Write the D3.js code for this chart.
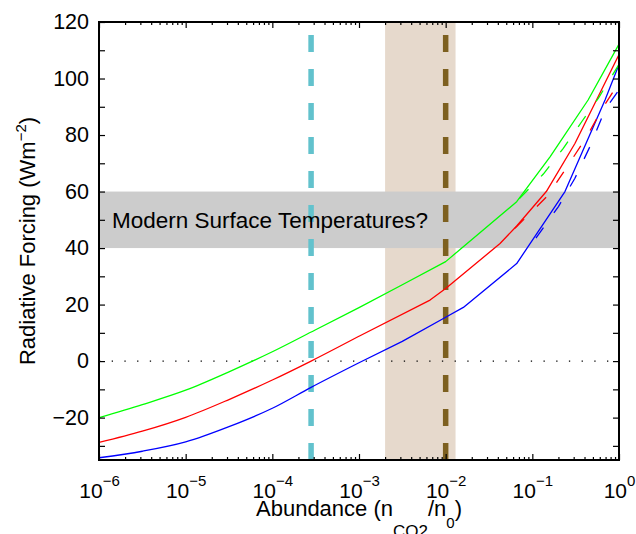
<!DOCTYPE html>
<html>
<head>
<meta charset="utf-8">
<script src="https://cdn.jsdelivr.net/npm/d3@7"></script>
<style>
  body { margin: 0; background: #fff; }
  text { font-family: "Liberation Sans", Arial, Helvetica, sans-serif; fill: #000; }
</style>
</head>
<body>
<svg id="chart" width="636" height="534"></svg>
<script>
// Solid curves: [abundance, forcing]
const greenSolid = [[1e-6, -20], [3.16e-6, -15.4], [1e-5, -10.3], [3.16e-5, -3.8], [1e-4, 3.3],
  [3.16e-4, 11.1], [1e-3, 18.9], [3.16e-3, 27], [1e-2, 35.2], [0.066, 56.4], [0.16, 72.3],
  [0.44, 92.4], [1, 112.2]];
const redSolid = [[1e-6, -28.8], [3.16e-6, -24.8], [1e-5, -19.9], [3.16e-5, -13.6], [1e-4, -6.7],
  [2.8e-4, 0], [1e-3, 8.8], [6.6e-3, 21.6], [1e-2, 25.7], [0.0424, 41.6],
  [0.066, 47.8], [0.145, 60], [0.31, 77], [0.55, 92.4], [1, 108.5]];
const blueSolid = [[1e-6, -34.2], [3.16e-6, -31.9], [1e-5, -28.6], [3.16e-5, -23.2], [1e-4, -16.7],
  [2.8e-4, -9.3], [1e-3, -0.6], [3.16e-3, 7], [1e-2, 15.5], [0.016, 19], [0.066, 34.5],
  [0.238, 60], [0.69, 92.4], [1, 105]];

// Dashed curves
const greenDashed = [[0.071, 57.5], [0.134, 66.2], [0.2275, 75.3], [0.371, 84.7], [0.577, 93], [1, 105]];
const redDashed = [[0.063, 47], [0.15, 58.5], [0.26, 69.4], [0.424, 79.4], [0.66, 90], [1, 98.5]];
const blueDashed = [[0.11, 43.5], [0.2, 54.7], [0.31, 64.7], [0.462, 75.9], [0.689, 88.9], [1, 96]];

// Markers and bands
const modernBand = [40, 60];
const earlyBand = [2e-3, 1.3e-2];
const cyanLine = 2.8e-4;
const brownLine = 1e-2;

const xMajor = [1e-6, 1e-5, 1e-4, 1e-3, 1e-2, 1e-1, 1];
const xExponents = ['\u22126', '\u22125', '\u22124', '\u22123', '\u22122', '\u22121', '0'];
const yTicks = d3.range(-30, 121, 10);

const svg = d3.select('#chart');
const plotLeft = 99, plotRight = 619, plotTop = 22, plotBottom = 460;

const x = d3.scaleLog().domain([1e-6, 1]).range([plotLeft, plotRight]);
const y = d3.scaleLinear().domain([-35, 120]).range([plotBottom, plotTop]);

svg.append('clipPath').attr('id', 'plot-clip')
  .append('rect')
    .attr('x', plotLeft).attr('y', plotTop)
    .attr('width', plotRight - plotLeft).attr('height', plotBottom - plotTop);

const plot = svg.append('g').attr('clip-path', 'url(#plot-clip)');

// Tan band
plot.append('rect')
  .attr('x', x(earlyBand[0])).attr('y', plotTop)
  .attr('width', x(earlyBand[1]) - x(earlyBand[0])).attr('height', plotBottom - plotTop)
  .attr('fill', '#e6d9cc');

// Gray band
plot.append('rect')
  .attr('x', plotLeft).attr('y', y(modernBand[1]))
  .attr('width', plotRight - plotLeft).attr('height', y(modernBand[0]) - y(modernBand[1]))
  .attr('fill', '#cccccc');

// Zero dotted line
plot.append('line')
  .attr('x1', plotLeft).attr('x2', plotRight)
  .attr('y1', y(0)).attr('y2', y(0))
  .attr('stroke', '#000').attr('stroke-width', 1.3)
  .attr('stroke-dasharray', '1.3,11.4');

// Vertical dashed markers (drawn bottom to top)
[[cyanLine, '#62c2cd'], [brownLine, '#7d6020']].forEach(([v, c]) => {
  plot.append('path')
    .attr('d', `M${x(v)},${plotBottom}V${plotTop}`)
    .attr('stroke', c).attr('stroke-width', 5.5)
    .attr('stroke-dasharray', '17,17')
    .attr('fill', 'none');
});

// Annotation
svg.append('text')
  .attr('x', 112).attr('y', 227.5)
  .attr('font-size', 22.5)
  .text('Modern Surface Temperatures?');

// Curves: smooth at low abundance, straight segments above 1e-3
const smoothLine = d3.line().x(d => x(d[0])).y(d => y(d[1])).curve(d3.curveMonotoneX);
const straightLine = d3.line().x(d => x(d[0])).y(d => y(d[1]));
const solidPath = data => smoothLine(data.filter(d => d[0] <= 1e-3))
  + straightLine(data.filter(d => d[0] >= 1e-3)).replace(/^M/, 'L');

[[greenSolid, '#00ff00'], [redSolid, '#ff0000'], [blueSolid, '#0000ff']].forEach(([data, colour]) => {
  plot.append('path')
    .attr('d', solidPath(data))
    .attr('fill', 'none')
    .attr('stroke', colour)
    .attr('stroke-width', 1.3)
    .attr('stroke-linejoin', 'round');
});

[[greenDashed, '#00ff00'], [redDashed, '#ff0000'], [blueDashed, '#0000ff']].forEach(([data, colour]) => {
  plot.append('path')
    .attr('d', straightLine(data))
    .attr('fill', 'none')
    .attr('stroke', colour)
    .attr('stroke-width', 1.3)
    .attr('stroke-dasharray', '13,18');
});

// Minor x ticks
const xMinor = [];
xMajor.slice(0, -1).forEach(m => { for (let k = 2; k <= 9; k++) xMinor.push(m * k); });

const styleAxis = g => {
  g.select('.domain').remove();
  g.selectAll('.tick line').attr('stroke', '#000').attr('stroke-width', 1.2);
};

svg.append('g').attr('transform', `translate(0,${plotBottom})`)
  .call(d3.axisBottom(x).tickValues(xMinor).tickSize(-3).tickFormat(''))
  .call(styleAxis);
svg.append('g').attr('transform', `translate(0,${plotTop})`)
  .call(d3.axisTop(x).tickValues(xMinor).tickSize(-3).tickFormat(''))
  .call(styleAxis);
svg.append('g').attr('transform', `translate(0,${plotTop})`)
  .call(d3.axisTop(x).tickValues(xMajor).tickSize(-6).tickFormat(''))
  .call(styleAxis);

const xAxis = svg.append('g').attr('transform', `translate(0,${plotBottom})`)
  .call(d3.axisBottom(x).tickValues(xMajor).tickSize(-6).tickPadding(23).tickFormat(''))
  .call(styleAxis);
xAxis.selectAll('.tick text').each(function(d, i) {
  const t = d3.select(this).attr('font-size', 21).attr('font-family', null);
  t.append('tspan').text('10');
  t.append('tspan').attr('dy', -12).attr('font-size', 15).text(xExponents[i]);
});

svg.append('g').attr('transform', `translate(${plotLeft},0)`)
  .call(d3.axisLeft(y).tickValues(yTicks).tickSize(-6).tickPadding(10)
    .tickFormat(d => d % 20 === 0 ? d3.format('d')(d) : ''))
  .call(styleAxis)
  .call(g => g.selectAll('.tick text').attr('font-size', 21.5).attr('font-family', null));
svg.append('g').attr('transform', `translate(${plotRight},0)`)
  .call(d3.axisRight(y).tickValues(yTicks).tickSize(-6).tickFormat(''))
  .call(styleAxis);

// Frame
svg.append('rect')
  .attr('x', plotLeft).attr('y', plotTop)
  .attr('width', plotRight - plotLeft).attr('height', plotBottom - plotTop)
  .attr('fill', 'none').attr('stroke', '#000').attr('stroke-width', 2);

// Axis labels
const xLabel = svg.append('text')
  .attr('x', (plotLeft + plotRight) / 2).attr('y', 516)
  .attr('text-anchor', 'middle').attr('font-size', 22);
xLabel.append('tspan').text('Abundance (n');
xLabel.append('tspan').attr('dy', 21).attr('font-size', 17).text('CO2');
xLabel.append('tspan').attr('dy', -21).text('/n');
xLabel.append('tspan').attr('dy', 12).attr('font-size', 15).text('0');
xLabel.append('tspan').attr('dy', -12).text(')');

const yLabel = svg.append('text')
  .attr('transform', `translate(35,${(plotTop + plotBottom) / 2}) rotate(-90)`)
  .attr('text-anchor', 'middle').attr('font-size', 22);
yLabel.append('tspan').text('Radiative Forcing (Wm');
yLabel.append('tspan').attr('dy', -9).attr('font-size', 15).text('\u22122');
yLabel.append('tspan').attr('dy', 9).text(')');
</script>
</body>
</html>
